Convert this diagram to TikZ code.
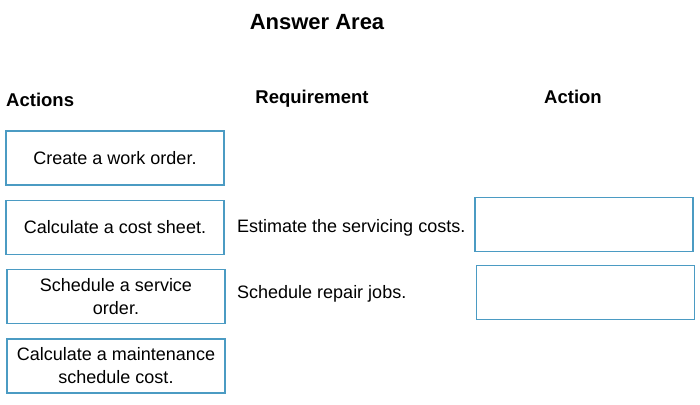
\documentclass[tikz,border=0pt]{standalone}
\usepackage{fontspec}
\setmainfont{Liberation Sans}
\usepackage{xcolor}
\usetikzlibrary{positioning}

\definecolor{slotblue}{RGB}{75,155,195}

\begin{document}
\begin{tikzpicture}[
    x=1pt, y=-1pt,
    box/.style={rectangle, draw=slotblue, line width=1.3pt, minimum width=218pt, minimum height=54pt, align=center, font=\fontsize{18}{23}\selectfont},
    head/.style={font=\bfseries\fontsize{18.5}{22}\selectfont},
    req/.style={anchor=west, inner sep=0pt, font=\fontsize{18}{22}\selectfont}
]
    \useasboundingbox (0,0) rectangle (700,404);

    % Headings
    \node[font=\bfseries\fontsize{22}{26}\selectfont] (title) at (317,22) {Answer Area};
    \node[head, anchor=west, inner sep=0pt] (actions) at (6,100) {Actions};
    \node[head] (requirement) at (312,99) {Requirement};
    \node[head] (action) at (573,97) {Action};

    % Actions to choose from
    \node[box] (create) at (115,158) {Create a work order.};
    \node[box, below=14pt of create] (costsheet) {Calculate a cost sheet.};
    \node[box, below=14pt of costsheet, xshift=1pt] (service) {Schedule a service\\order.};
    \node[box, below=14pt of service] (maint) {Calculate a maintenance\\schedule cost.};

    % Requirements and answer slots
    \node[req] (estimate) at (237,228) {Estimate the servicing costs.};
    \node[req] (repair) at (237,294) {Schedule repair jobs.};
    \node[box] (slotA) at (584,224.5) {};
    \node[box] (slotB) at (585.5,292.5) {};
\end{tikzpicture}
\end{document}
